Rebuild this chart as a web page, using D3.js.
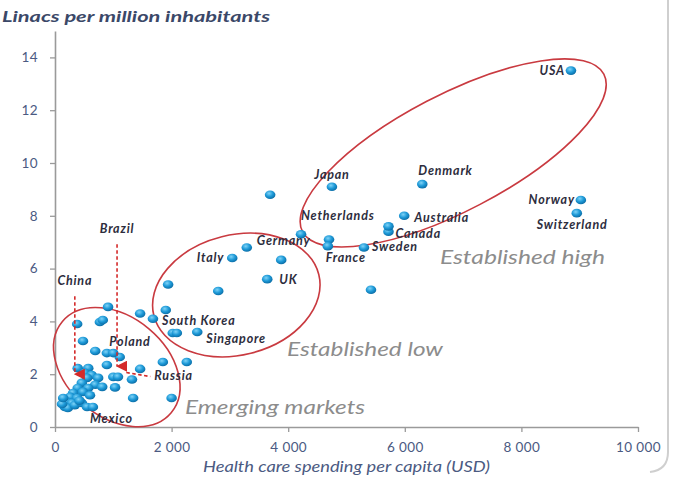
<!DOCTYPE html>
<html><head><meta charset="utf-8">
<script src="https://cdn.jsdelivr.net/npm/d3@7"></script>
<style>body{margin:0;background:#fff}svg{display:block}</style>
</head><body>
<svg id="c" width="675" height="480"></svg>
<script>
// ---- data ----
const countries = ["USA","Denmark","Japan","Norway","Switzerland","Australia","Canada","Netherlands","France","Sweden","Germany","Italy","UK","South Korea","Singapore","Poland","Russia","Brazil","China","Mexico"];
const spending  = [8850,6300,4750,9020,8950,5990,5720,4220,4680,5300,3290,3040,3640,1680,2440,1000,1120,1030,340,650];
const linacs    = [13.5,9.2,9.1,8.6,8.1,8.0,7.6,7.3,6.85,6.8,6.8,6.4,5.6,4.1,3.6,2.8,2.1,2.15,1.85,0.76];

const otherSpending = [3690,3880,5420,2800,1940,1900,1460,910,770,820,380,2020,2090,480,690,890,1110,1850,2260,390,570,890,1460,1000,1080,1320,1340,2000,1030,5720,4700,
  510,630,550,740,460,690,390,570,810,310,480,260,380,210,290,170,220,340,460,550,120,140,600,420];
const otherLinacs   = [8.8,6.33,5.2,5.15,5.4,4.43,4.3,4.55,3.98,4.05,3.9,3.56,3.56,3.26,2.88,2.8,2.65,2.46,2.46,2.23,2.23,2.35,2.2,1.9,1.9,1.8,1.1,1.1,1.5,7.4,7.1,
  2.05,1.97,1.86,1.86,1.67,1.6,1.48,1.48,1.52,1.29,1.33,1.14,1.1,0.95,0.91,0.76,0.72,0.83,0.91,0.76,0.87,1.1,1.2,1.0];

const xTicks = [0,2000,4000,6000,8000,10000];
const yTicks = [0,2,4,6,8,10,12,14];

const groupNames = ["Established high","Established low","Emerging markets"];
const groupCx = [6830,3110,1060];
const groupCy = [10.38,5.0,2.27];

// ---- layout (not data) ----
const x = d3.scaleLinear().domain([0,10000]).range([55,638]);
const y = d3.scaleLinear().domain([0,15]).range([427,31]);
const svg = d3.select("#c");
const FONT = "Lato, 'Open Sans', sans-serif";

const defs = svg.append("defs");
const g = defs.append("radialGradient").attr("id","dot").attr("cx","40%").attr("cy","35%").attr("r","65%");
g.append("stop").attr("offset","0%").attr("stop-color","#7fd3f7");
g.append("stop").attr("offset","55%").attr("stop-color","#1e9ad8");
g.append("stop").attr("offset","100%").attr("stop-color","#0c6fa8");
defs.append("marker").attr("id","arr").attr("viewBox","0 0 10 10").attr("refX",5).attr("refY",9)
  .attr("markerWidth",7).attr("markerHeight",7).attr("orient","auto-start-reverse")
  .append("path").attr("d","M0,0 L10,0 L5,10 Z").attr("fill","#d42a2a");

// frame shadow edge
svg.append("path").attr("d","M668,0 V452 Q668,470 650,472").attr("fill","none").attr("stroke","#cfcfcf").attr("stroke-width",2);

// axes
const fmt = d => d>=1000 ? d3.format(",")(d).replace(/,/g," ") : String(d);
const xa = svg.append("g").attr("transform","translate(0,427)")
  .call(d3.axisBottom(x).tickValues(xTicks).tickFormat(fmt).tickSize(5).tickSizeOuter(0).tickPadding(10));
const ya = svg.append("g").attr("transform","translate(55,0)")
  .call(d3.axisLeft(y).tickValues(yTicks).tickSize(5).tickSizeOuter(0).tickPadding(12));
[xa,ya].forEach(a=>{
  a.select(".domain").attr("stroke","#9a9a9a").attr("stroke-width",1.6);
  a.selectAll(".tick line").attr("stroke","#9a9a9a").attr("stroke-width",1.3);
  a.selectAll("text").attr("fill","#4b5a82").attr("font-family",FONT).attr("font-size",13.5).attr("letter-spacing",0.4);
});

// titles
svg.append("text").attr("x",2).attr("y",22).text("Linacs per million inhabitants")
  .attr("font-family",FONT).attr("font-style","italic").attr("font-weight","bold")
  .attr("font-size",15).attr("fill","#3b4868").attr("textLength",268).attr("lengthAdjust","spacingAndGlyphs");
svg.append("text").attr("x",203).attr("y",472).text("Health care spending per capita (USD)")
  .attr("font-family",FONT).attr("font-style","italic")
  .attr("font-size",15).attr("fill","#4b5a82").attr("textLength",287).attr("lengthAdjust","spacingAndGlyphs");

// ellipses (centre in data units, semi-axes in px, rotation in degrees)
const ellRx=[170,85,71], ellRy=[58,60,50], ellRot=[-27.6,-14,40];
groupNames.forEach((n,i)=>{
  svg.append("ellipse").attr("cx",0).attr("cy",0).attr("rx",ellRx[i]).attr("ry",ellRy[i])
    .attr("transform",`translate(${x(groupCx[i])},${y(groupCy[i])}) rotate(${ellRot[i]})`)
    .attr("fill","none").attr("stroke","#c93a40").attr("stroke-width",1.6);
});

// group labels
const glPos = [[440,264],[287,356],[185,414]], glLen=[165,156,180];
groupNames.forEach((n,i)=>{
  svg.append("text").attr("x",glPos[i][0]).attr("y",glPos[i][1]).text(n)
    .attr("font-family",FONT).attr("font-style","italic").attr("font-size",19)
    .attr("fill","#8c8c8c").attr("textLength",glLen[i]).attr("lengthAdjust","spacingAndGlyphs");
});

// points
const others = otherSpending.map((s,i)=>({s,l:otherLinacs[i]}));
const named = countries.map((c,i)=>({c,s:spending[i],l:linacs[i]}));
svg.append("g").selectAll("ellipse").data(others.concat(named.filter(d=>!["Brazil","China","Russia"].includes(d.c))))
  .join("ellipse").attr("cx",d=>x(d.s)).attr("cy",d=>y(d.l)).attr("rx",5.3).attr("ry",4.3)
  .attr("fill","url(#dot)");

// label placement
const lab = {
  "USA":[-6,4,"end"],"Denmark":[-4,-9,"start"],"Japan":[0,-8,"middle"],"Norway":[-6,4,"end"],
  "Switzerland":[-40,16,"start"],"Australia":[10,6,"start"],"Canada":[7,12,"start"],
  "Netherlands":[0,-14,"start"],"France":[-2,16,"start"],"Sweden":[8,4,"start"],"Germany":[10,-2,"start"],
  "Italy":[-8,4,"end"],"UK":[12,5,"start"],"South Korea":[9,6,"start"],"Singapore":[9,11,"start"],
  "Poland":[-4,-7,"start"],"Russia":[34,8,"start"],"Brazil":[2,-137,"middle"],"China":[0,-93,"middle"],"Mexico":[-3,16,"start"]
};
function dash(x1,y1,x2,y2,arrow){
  const l=svg.append("line").attr("x1",x1).attr("y1",y1).attr("x2",x2).attr("y2",y2)
    .attr("stroke","#d42a2a").attr("stroke-width",1.6).attr("stroke-dasharray","3.5,2.5");
  if(arrow) l.attr("marker-end","url(#arr)");
}
const br = named.find(d=>d.c==="Brazil"), ch = named.find(d=>d.c==="China"), ru = named.find(d=>d.c==="Russia");
dash(x(br.s)+2,y(br.l)-126,x(br.s)+2,y(br.l)-4,true);
dash(x(ch.s),y(ch.l)-82,x(ch.s),y(ch.l)-4,true);
dash(x(ru.s)+6,y(ru.l)+1,x(ru.s)+30,y(ru.l)+5,false);

svg.append("g").selectAll("text").data(named).join("text")
  .attr("x",d=>x(d.s)+lab[d.c][0]).attr("y",d=>y(d.l)+lab[d.c][1]).attr("text-anchor",d=>lab[d.c][2])
  .text(d=>d.c).attr("font-family",FONT).attr("font-style","italic").attr("font-weight","bold")
  .attr("font-size",12.5).attr("letter-spacing",0.8).attr("fill","#2d2d3d");
</script>
</body></html>
